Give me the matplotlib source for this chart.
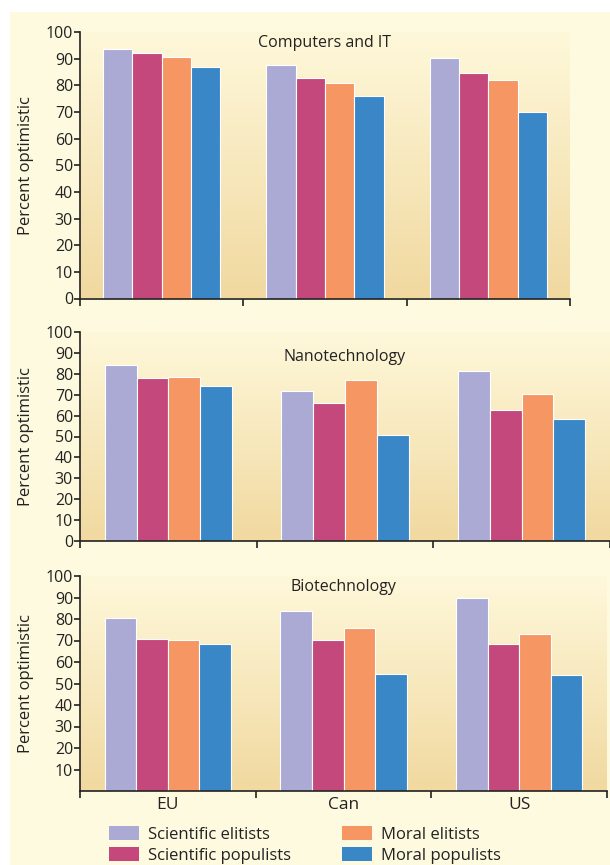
import numpy as np
import matplotlib
matplotlib.use("Agg")
import matplotlib.pyplot as plt
from matplotlib.patches import Rectangle, Patch
from matplotlib.colors import LinearSegmentedColormap

plt.rcParams['font.family'] = ['Open Sans', 'DejaVu Sans']

regions = ["EU", "Can", "US"]
groups = ["Scientific elitists", "Scientific populists", "Moral elitists", "Moral populists"]
colors = ["#ABAAD4", "#C4487B", "#F59663", "#3A87C7"]

computers = {
    "Scientific elitists": [93.7, 87.6, 90.1],
    "Scientific populists": [92.0, 82.7, 84.6],
    "Moral elitists": [90.6, 80.9, 82.1],
    "Moral populists": [87.0, 76.0, 69.8],
}
nano = {
    "Scientific elitists": [84.0, 71.6, 81.5],
    "Scientific populists": [78.0, 66.0, 62.5],
    "Moral elitists": [78.6, 77.2, 70.1],
    "Moral populists": [74.3, 50.6, 58.5],
}
bio = {
    "Scientific elitists": [80.5, 83.9, 89.9],
    "Scientific populists": [70.9, 70.2, 68.2],
    "Moral elitists": [70.2, 75.7, 73.0],
    "Moral populists": [68.2, 54.6, 54.0],
}
titles = ["Computers and IT", "Nanotechnology", "Biotechnology"]
title_y = [99, 92, 98.5]

W, H = 610, 865
fig = plt.figure(figsize=(W / 100, H / 100), dpi=100)
fig.patch.set_facecolor("white")
fig.patches.append(Rectangle((10 / W, 0), 1, 1 - 12 / H, transform=fig.transFigure,
                             facecolor="#FEFADF", edgecolor="none", zorder=-5))

# pixel boxes: left, right, y of 100, y of 0
boxes = [(80, 570, 32, 298.5), (80, 610, 332, 541), (80, 607, 576, 791)]
grad = LinearSegmentedColormap.from_list("g", ["#FEF8DA", "#F1D9A0"])

bw = 0.18
x = np.arange(len(regions))
for i, (data, title, (l, r, t, b)) in enumerate(zip([computers, nano, bio], titles, boxes)):
    ax = fig.add_axes([l / W, 1 - b / H, (r - l) / W, (b - t) / H])
    ax.set_facecolor("none")
    ax.imshow(np.linspace(0, 1, 100).reshape(-1, 1), cmap=grad, aspect="auto",
              extent=(-0.5, 2.5, 0, 100), origin="upper", zorder=0)
    for j, g in enumerate(groups):
        ax.bar(x + (j - 1.5) * bw, data[g], width=bw, color=colors[j],
               edgecolor="white", linewidth=0.8, zorder=2)
    ax.set_xlim(-0.5, 2.5)
    ax.set_ylim(0, 100)
    for s in ["top", "right"]:
        ax.spines[s].set_visible(False)
    for s in ["left", "bottom"]:
        ax.spines[s].set_color("#222222")
        ax.spines[s].set_linewidth(1.2)
    ax.set_xticks([-0.5, 0.5, 1.5, 2.5])
    ax.set_xticklabels([])
    ax.tick_params(axis="x", direction="out", length=5, width=1.2, color="#222222")
    if i == 2:
        ax.set_yticks(np.arange(10, 101, 10))
        ax.set_xticks(x, minor=True)
        ax.set_xticklabels(regions, minor=True, fontsize=12.5, color="#222222")
        ax.tick_params(axis="x", which="minor", length=0, pad=4)
    else:
        ax.set_yticks(np.arange(0, 101, 10))
    ax.tick_params(axis="y", direction="out", length=4, width=1.2, color="#222222",
                   labelsize=11.5, labelcolor="#222222", pad=1)
    ax.set_ylabel("Percent optimistic", fontsize=12, color="#222222")
    ax.yaxis.set_label_coords(-46 / (r - l), 0.5)
    ax.text(1.0, title_y[i], title, ha="center", va="top", fontsize=11.5,
            color="#222222", zorder=3)

handles = [Patch(facecolor=c, edgecolor="none") for c in colors]
fig.legend(handles, groups, ncol=2, loc="upper left", bbox_to_anchor=(101 / W, 1 - 818 / H),
           frameon=False, fontsize=12, handlelength=1.8, handleheight=0.9,
           handletextpad=0.55, columnspacing=3.0, labelspacing=0.25, borderpad=0,
           labelcolor="#222222")

fig.savefig("out.png", dpi=100)
